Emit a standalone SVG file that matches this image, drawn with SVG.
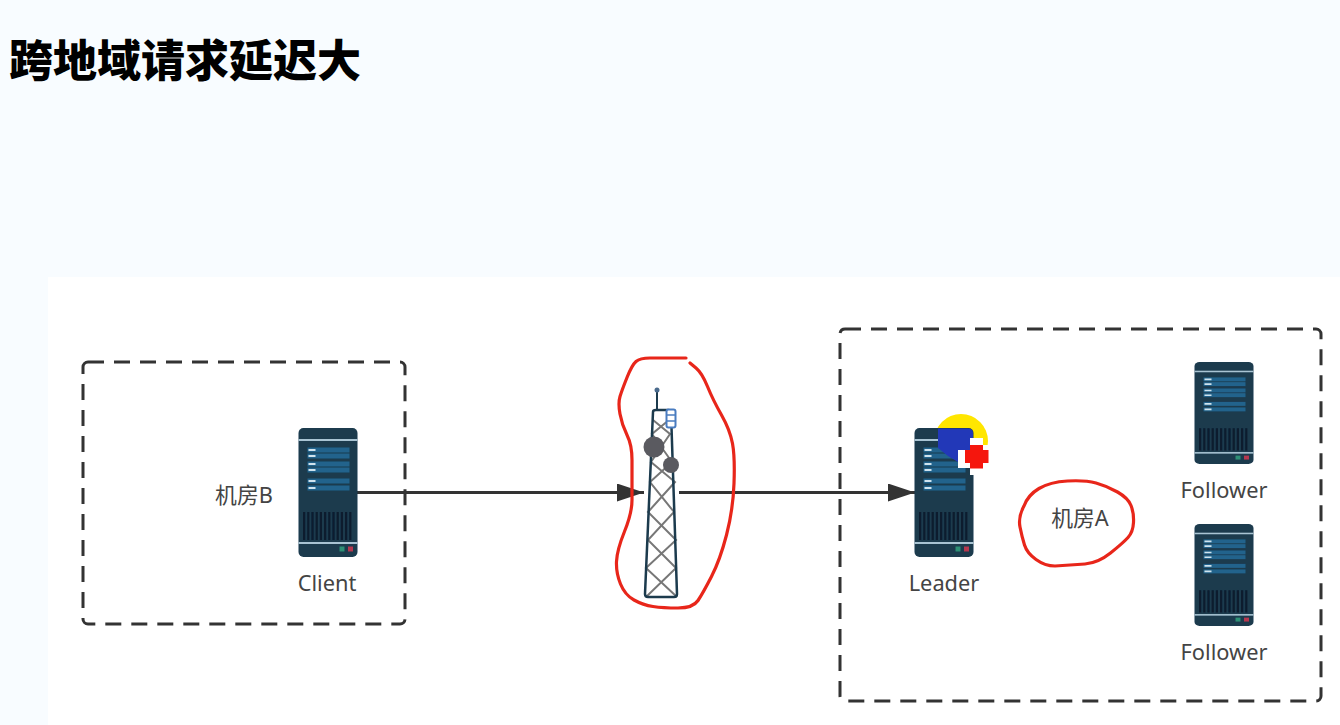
<svg xmlns="http://www.w3.org/2000/svg" width="1340" height="725" viewBox="0 0 1340 725">
<style>
.lbl{font-family:"Noto Sans","Noto Sans CJK SC",sans-serif;font-size:21.8px;fill:#444;text-anchor:middle}
.title{font-family:"Noto Sans CJK SC",sans-serif;font-size:44px;font-weight:900;fill:#000}
.zone{fill:none;stroke:#333;stroke-width:3;stroke-dasharray:16 10}
.ink{fill:none;stroke:#e8261a;stroke-width:3.2;stroke-linejoin:round;stroke-linecap:round}
.conn{stroke:#333;stroke-width:3;fill:none}
.bar{fill:#23648c}
.dash{stroke:#cfe3ee;stroke-width:2}
</style>
<defs>
<filter id="soft" x="-5%" y="-5%" width="110%" height="110%"><feGaussianBlur stdDeviation="0.45"/></filter>
<marker id="arrow" markerUnits="userSpaceOnUse" markerWidth="28" markerHeight="18" refX="27" refY="9" orient="auto"><path d="M0 0L27 9L0 18Z" fill="#333"/></marker>
<g id="server">
<rect width="59" height="129" rx="5" fill="#1b3a4e"/>
<rect y="11" width="59" height="2" fill="#a9c4d3"/>
<rect x="9" y="19.5" width="42" height="5" class="bar"/><rect x="9" y="25.5" width="42" height="5" class="bar"/>
<rect x="9" y="33.5" width="42" height="5" class="bar"/><rect x="9" y="39.5" width="42" height="5" class="bar"/>
<rect x="9" y="50.5" width="42" height="5" class="bar"/><rect x="9" y="57.5" width="42" height="5" class="bar"/>
<path class="dash" d="M10 22H17M10 28H17M10 36H17M10 42H17M10 53H17M10 60H17"/>
<line x1="4.5" x2="54.5" y1="98" y2="98" stroke="#0a1c2e" stroke-width="28" stroke-dasharray="2.2 2"/>
<rect y="114" width="59" height="2" fill="#a9c4d3"/>
<rect x="41" y="118.500" width="5" height="5" fill="#2f8f74"/><rect x="49.500" y="118.500" width="5" height="5" fill="#b5384f"/>
</g>
</defs>
<rect id="background" width="1340" height="725" fill="#f8fcff"/>
<rect id="panel" x="48" y="277" width="1292" height="448" fill="#fff"/>
<text class="title" x="9" y="77">跨地域请求延迟大</text>
<g id="zone-b"><rect class="zone" x="83" y="362" width="322" height="262" rx="5"/><text class="lbl" x="244" y="503">机房B</text></g>
<g id="zone-a"><rect class="zone" x="840" y="329" width="481" height="372" rx="5"/></g>
<g id="connectors">
<line class="conn" x1="357" y1="492.500" x2="644" y2="492.500" marker-end="url(#arrow)"/>
<line class="conn" x1="679" y1="492.500" x2="915" y2="492.500" marker-end="url(#arrow)"/>
</g>
<g id="client"><use href="#server" x="298.500" y="428" filter="url(#soft)"/><text class="lbl" x="327" y="591">Client</text></g>
<g id="tower" filter="url(#soft)">
<path d="M653 420L670 434L651 462L675 482L648 512L676 540L646 568L677 597M669 420L652 434L672 462L650 482L674 512L648 540L676 568L646 597" fill="none" stroke="#777" stroke-width="2"/>
<path d="M657 390V410" stroke="#1b3a4e" stroke-width="2"/>
<circle cx="657" cy="390" r="2.500" fill="#4a6a8c"/>
<path d="M653 412Q653 410 656 410H668Q671 410 671 412L677 594Q677 597 674 597H648Q645 597 645 594Z" fill="none" stroke="#1b3a4e" stroke-width="2.500"/>
<rect x="666.500" y="409.500" width="9" height="18" rx="2" fill="#fff" stroke="#4a7cc0" stroke-width="2"/>
<path d="M667 415H675M667 421H675" stroke="#4a7cc0" stroke-width="1.500"/>
<circle cx="654" cy="447" r="10.500" fill="#5a5a60"/>
<circle cx="671" cy="465" r="8" fill="#5a5a60"/>
</g>
<path id="tower-ink" class="ink" d="M686 358L650 358Q640 358 636 361.500Q632 365 627 377.500Q622 390 620 396.500Q618 403 620 414Q622 425 627 435Q632 445 632 460L632 500Q632 513 624.500 531.500Q617 550 616.500 561.500Q616 573 620.500 584Q625 595 634 600Q643 605 653 606.500Q663 608 678 608Q693 608 698 600.500Q703 593 711.500 576.500Q720 560 726.500 535Q733 510 734 483.500Q735 457 732.500 443.500Q730 430 721.500 415Q713 400 707.500 386.500Q702 373 696 368L690 363"/>
<g id="leader">
<g filter="url(#soft)">
<circle cx="961" cy="441" r="27" fill="#ffe600"/>
<use href="#server" x="914.500" y="428"/>
<path d="M938 428.500H968Q973 428.500 973 433V462H958L948 456L938 448Z" fill="#2238b8"/>
<path d="M970 438H983V445H990V468H983V475H970V468H958V450H970Z" fill="#fff"/>
<path d="M970 445H983V450H988.500V463H983V468.500H970V463H965V450H970Z" fill="#f5140a"/>
</g>
<text class="lbl" x="944" y="591">Leader</text>
</g>
<g id="follower-1"><use href="#server" transform="translate(1194.500 362) scale(1 .79)" filter="url(#soft)"/><text class="lbl" x="1224" y="498">Follower</text></g>
<g id="follower-2"><use href="#server" transform="translate(1194.500 524) scale(1 .79)" filter="url(#soft)"/><text class="lbl" x="1224" y="660">Follower</text></g>
<g id="room-a">
<path class="ink" d="M1024 506Q1028 495 1039 488.500Q1050 482 1067.500 481Q1085 480 1096 483Q1107 486 1117.500 492Q1128 498 1131 505.500Q1134 513 1133.500 522.500Q1133 532 1128 537.500Q1123 543 1110.500 553Q1098 563 1085 564L1055 566Q1045 566 1036 559.500Q1027 553 1024.500 545Q1022 537 1020 527Q1018 517 1024 506Z"/>
<text class="lbl" x="1080" y="526">机房A</text>
</g>
</svg>
